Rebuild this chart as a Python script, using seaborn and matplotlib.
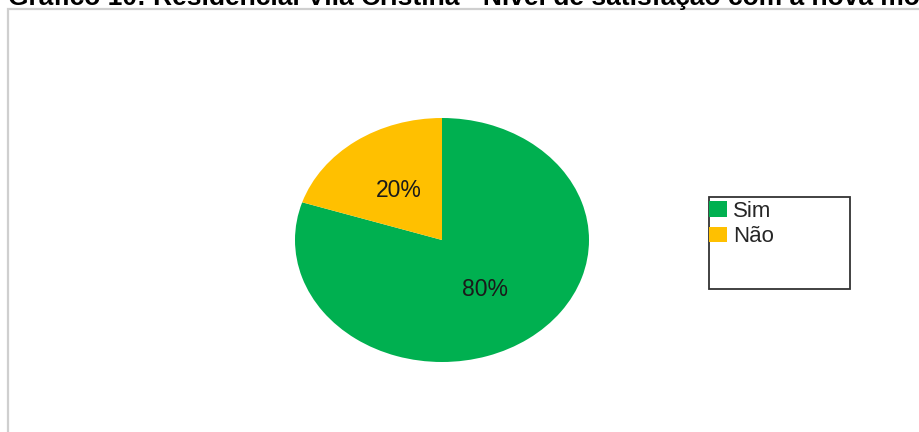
import matplotlib
matplotlib.use("Agg")
import matplotlib.pyplot as plt
from matplotlib.patches import Rectangle, Patch
import seaborn as sns

# Satisfaction answers and their shares
categories = ["Sim", "Não"]
shares = [80, 20]
colors = ["#00B050", "#FFC000"]
title = "Gráfico 10: Residencial Vila Cristina - Nível de satisfação com a nova moradia"

sns.set_theme(style="white")
plt.rcParams["font.family"] = ["Liberation Sans", "DejaVu Sans"]

W, H = 920, 432
fig = plt.figure(figsize=(W / 100, H / 100), dpi=100)
fig.patch.set_facecolor("white")

def fx(px):
    return px / W

def fy(py):
    return 1 - py / H

# Chart frame, light gray, running off the right and bottom edges
fig.patches.append(Rectangle((fx(8), fy(460)), fx(960), fy(9) - fy(460),
                             transform=fig.transFigure, fill=False,
                             edgecolor="#cfcfcf", linewidth=1.6))

# Title, partly above the canvas
fig.text(fx(8), fy(5), title, fontsize=19, fontweight="bold",
         color="black", va="baseline", ha="left")

# Pie drawn in an axes with free aspect so it renders as an ellipse
ax = fig.add_axes([fx(295), fy(362), fx(589) - fx(295), fy(118) - fy(362)])
wedges, texts, autotexts = ax.pie(
    shares, colors=colors, startangle=90, counterclock=False,
    autopct="%d%%", pctdistance=0.5,
    textprops=dict(fontsize=16.5, color="#1a1a1a"),
    wedgeprops=dict(linewidth=0),
)
ax.set_aspect("auto")
ax.set_xlim(-1, 1)
ax.set_ylim(-1, 1)
ax.axis("off")

# Legend box
fig.patches.append(Rectangle((fx(709), fy(289)), fx(850) - fx(709), fy(197) - fy(289),
                             transform=fig.transFigure, fill=False,
                             edgecolor="#333333", linewidth=1.3))
handles = [Patch(facecolor=c, edgecolor="none") for c in colors]
fig.legend(handles, categories, loc="upper left",
           bbox_to_anchor=(fx(709), fy(201)), frameon=False,
           fontsize=16, handlelength=0.82, handleheight=0.7,
           handletextpad=0.25, labelspacing=0.2, borderpad=0,
           borderaxespad=0)

fig.savefig("out.png", dpi=100, facecolor="white")
